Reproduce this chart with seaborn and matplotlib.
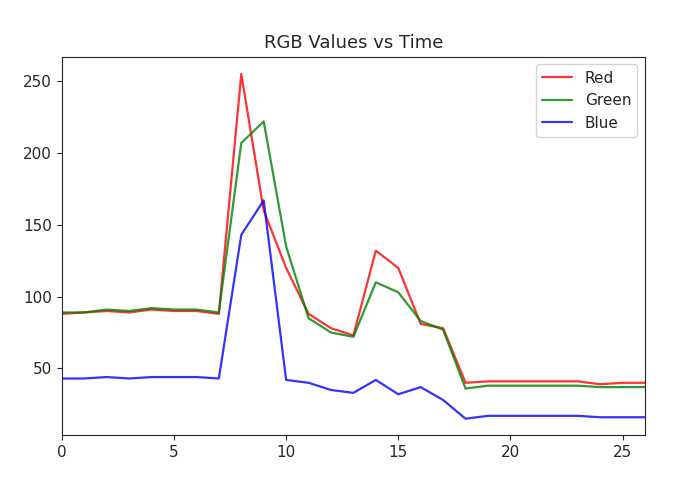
import matplotlib
matplotlib.use("Agg")
import matplotlib.pyplot as plt
import seaborn as sns
import pandas as pd

time = list(range(27))
red = [88, 89, 90, 89, 91, 90, 90, 88, 255, 160, 120, 88, 78, 73, 132, 120, 81, 78, 40, 41, 41, 41, 41, 41, 39, 40, 40]
green = [89, 89, 91, 90, 92, 91, 91, 89, 207, 222, 135, 85, 75, 72, 110, 103, 83, 77, 36, 38, 38, 38, 38, 38, 37, 37, 37]
blue = [43, 43, 44, 43, 44, 44, 44, 43, 143, 167, 42, 40, 35, 33, 42, 32, 37, 28, 15, 17, 17, 17, 17, 17, 16, 16, 16]

sns.set_style("ticks")
fig = plt.figure(figsize=(6.95, 4.94), dpi=100)
ax = fig.add_axes([0.089, 0.119, 0.839, 0.766])
df = pd.DataFrame({"t": time, "Red": red, "Green": green, "Blue": blue})
for name, col in [("Red", "red"), ("Green", "green"), ("Blue", "blue")]:
    sns.lineplot(data=df, x="t", y=name, color=col, alpha=0.8, label=name, ax=ax, linewidth=1.6)
ax.set_xlim(0, 26)
ax.set_ylim(3.5, 267)
ax.set_xlabel("")
ax.set_ylabel("")
ax.set_title("RGB Values vs Time", fontsize=13)
ax.tick_params(labelsize=11)
ax.legend(loc="upper right", fontsize=11)
fig.savefig("out.png", dpi=100)
